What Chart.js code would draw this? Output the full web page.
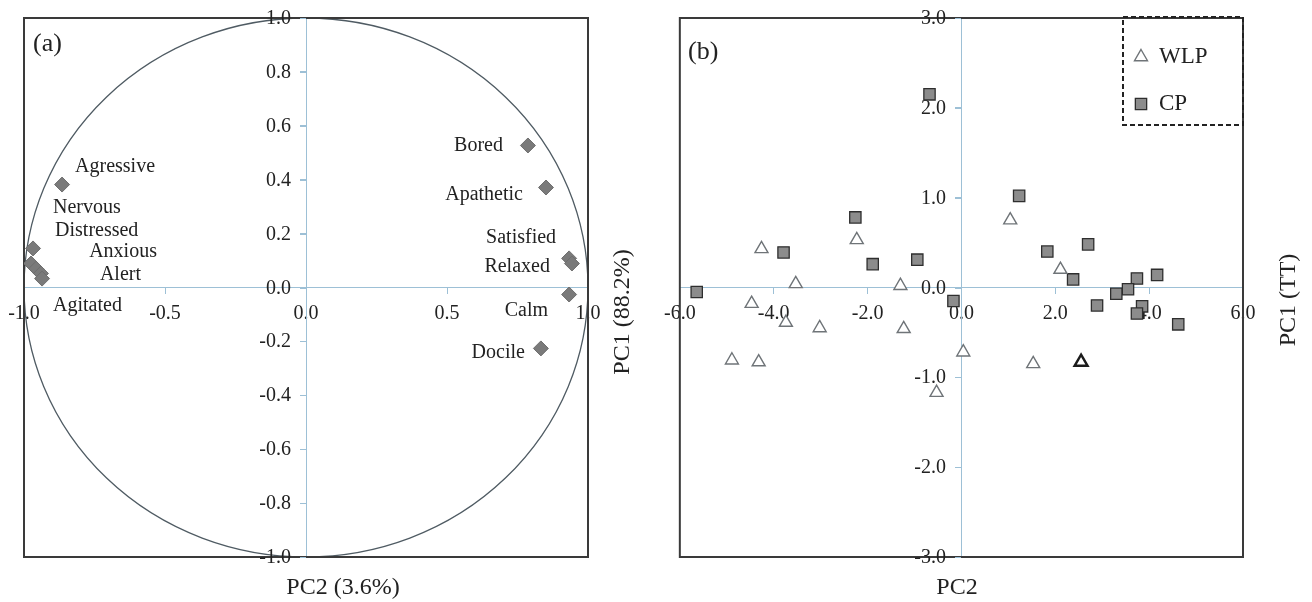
<!DOCTYPE html>
<html lang="en">

<head>
    <meta charset="UTF-8">
    <title>PCA loadings and scores</title>
    <style>
        body {
            margin: 0;
            padding: 0;
            background-color: #ffffff;
        }

        .panels {
            position: relative;
            width: 1312px;
            height: 602px;
        }

        canvas {
            position: absolute;
            top: 0;
        }

        #loadings { left: 0; }
        #scores { left: 656px; }
    </style>
</head>

<body>
    <div class="panels">
        <canvas id="loadings" width="656" height="602"></canvas>
        <canvas id="scores" width="656" height="602"></canvas>
    </div>

    <script src="https://cdn.jsdelivr.net/npm/chart.js"></script>
    <script>
        // ---- panel (a): trait loadings ----
        const traitNames = ["Agressive", "Nervous", "Distressed", "Anxious", "Alert", "Agitated",
            "Bored", "Apathetic", "Satisfied", "Relaxed", "Calm", "Docile"];
        const loadPC2 = [-0.865, -0.968, -0.975, -0.957, -0.940, -0.936,
            0.787, 0.851, 0.933, 0.943, 0.933, 0.833];
        const loadPC1 = [0.382, 0.145, 0.089, 0.070, 0.052, 0.033,
            0.527, 0.371, 0.108, 0.089, -0.026, -0.226];

        // ---- panel (b): scores ----
        const wlpPC2 = [-4.26, -2.23, -3.53, -1.30, -4.47, -3.74, -3.02, -1.23, -4.89, -4.32,
            0.04, -0.53, 1.53, 2.55, 1.04, 2.11];
        const wlpPC1 = [0.43, 0.53, 0.04, 0.02, -0.18, -0.39, -0.45, -0.46, -0.81, -0.83,
            -0.72, -1.17, -0.85, -0.83, 0.75, 0.20];
        const cpPC2 = [-0.68, -2.26, -3.79, -1.89, -0.94, -5.64, -0.17, 1.23, 1.83, 2.70,
            2.38, 3.74, 4.17, 3.55, 3.30, 2.89, 3.85, 3.74, 4.62];
        const cpPC1 = [2.15, 0.78, 0.39, 0.26, 0.31, -0.05, -0.15, 1.02, 0.40, 0.48,
            0.09, 0.10, 0.14, -0.02, -0.07, -0.20, -0.21, -0.29, -0.41];
        const seriesNames = ["WLP", "CP"];

        // label placement for panel (a): [dx, dy, align]
        const labelOffsets = [
            [13, -18, "left"], [20, -41, "left"], [24, -33, "left"], [53, -17, "left"],
            [59, 1, "left"], [11, 27, "left"],
            [-25, 0, "right"], [-23, 7, "right"], [-13, -21, "right"], [-22, 3, "right"],
            [-21, 16, "right"], [-16, 4, "right"]
        ];

        const serif = "'Liberation Serif', 'Times New Roman', serif";
        const axisBlue = "#9dc0d6";
        const ink = "#222222";

        Chart.defaults.font.family = serif;
        Chart.defaults.color = ink;

        function toPoints(xs, ys) {
            return xs.map((v, i) => ({ x: v, y: ys[i] }));
        }

        function centerAxes(xMin, xMax, xStep, yMin, yMax, yStep) {
            const common = {
                border: { color: axisBlue, width: 1 },
                grid: { drawOnChartArea: false, drawTicks: true, tickLength: 6, color: axisBlue },
            };
            return {
                x: {
                    type: "linear", min: xMin, max: xMax, position: { y: 0 },
                    ...common,
                    ticks: { stepSize: xStep, padding: 8, font: { size: 20 }, color: ink,
                        maxRotation: 0, callback: v => v.toFixed(1) },
                },
                y: {
                    type: "linear", min: yMin, max: yMax, position: { x: 0 },
                    ...common,
                    // labels for this axis are drawn by the plugin, left of the centre line
                    ticks: { stepSize: yStep, display: false },
                },
            };
        }

        function frame(chart) {
            const { ctx, chartArea: a } = chart;
            ctx.save();
            ctx.strokeStyle = "#3a3a3a";
            ctx.lineWidth = 2;
            ctx.strokeRect(a.left, a.top, a.width, a.height);
            ctx.restore();
        }

        // y tick marks and labels on the left side of the centred axis
        function yTicks(chart) {
            const { ctx, scales: { x, y } } = chart;
            const ax = Math.round(x.getPixelForValue(0));
            ctx.save();
            ctx.strokeStyle = axisBlue;
            ctx.lineWidth = 1;
            ctx.font = "20px " + serif;
            ctx.fillStyle = ink;
            ctx.textAlign = "right";
            ctx.textBaseline = "middle";
            y.ticks.forEach(t => {
                const py = Math.round(y.getPixelForValue(t.value));
                ctx.beginPath();
                ctx.moveTo(ax - 6, py + 0.5);
                ctx.lineTo(ax, py + 0.5);
                ctx.stroke();
                ctx.fillText(t.value.toFixed(1), ax - 15, py + 1);
            });
            ctx.restore();
        }

        function titles(ctx, tag, tagX, tagY, xTitle, xX, yTitle, yX, yY) {
            ctx.save();
            ctx.fillStyle = ink;
            ctx.textBaseline = "middle";
            ctx.font = "26px " + serif;
            ctx.textAlign = "left";
            ctx.fillText(tag, tagX, tagY);
            ctx.font = "24px " + serif;
            ctx.textAlign = "center";
            ctx.fillText(xTitle, xX, 588);
            ctx.translate(yX, yY);
            ctx.rotate(-Math.PI / 2);
            ctx.fillText(yTitle, 0, 0);
            ctx.restore();
        }

        // circle, frame and trait labels
        const loadingsDecor = {
            id: "loadingsDecor",
            beforeDatasetsDraw(chart) {
                const { ctx, scales: { x, y } } = chart;
                const cx = x.getPixelForValue(0), cy = y.getPixelForValue(0);
                const rx = x.getPixelForValue(1) - cx, ry = cy - y.getPixelForValue(1);
                ctx.save();
                ctx.beginPath();
                ctx.ellipse(cx, cy, rx, ry, 0, 0, Math.PI * 2);
                ctx.strokeStyle = "#4f5b63";
                ctx.lineWidth = 1.3;
                ctx.stroke();
                ctx.restore();
                frame(chart);
                yTicks(chart);
            },
            afterDatasetsDraw(chart) {
                const { ctx, scales: { x, y } } = chart;
                ctx.save();
                ctx.font = "20px " + serif;
                ctx.fillStyle = ink;
                ctx.textBaseline = "middle";
                traitNames.forEach((name, i) => {
                    const [dx, dy, align] = labelOffsets[i];
                    ctx.textAlign = align;
                    ctx.fillText(name, x.getPixelForValue(loadPC2[i]) + dx, y.getPixelForValue(loadPC1[i]) + dy);
                });
                ctx.restore();
                titles(ctx, "(a)", 33, 44, "PC2 (3.6%)", 343, "PC1 (88.2%)", 623, 312);
            },
        };

        new Chart(document.getElementById("loadings"), {
            type: "scatter",
            data: {
                datasets: [{
                    label: "Traits",
                    data: toPoints(loadPC2, loadPC1),
                    pointStyle: "rectRot",
                    pointRadius: 7.5,
                    backgroundColor: "#7a7a7a",
                    borderColor: "#6e6e6e",
                    borderWidth: 1,
                }],
            },
            options: {
                responsive: false,
                animation: false,
                layout: { padding: { left: 24, right: 68, top: 18, bottom: 45 } },
                plugins: { legend: { display: false }, tooltip: { enabled: false } },
                scales: centerAxes(-1, 1, 0.5, -1, 1, 0.2),
            },
            plugins: [loadingsDecor],
        });

        // frame, dashed legend and titles
        const scoresDecor = {
            id: "scoresDecor",
            beforeDatasetsDraw(chart) {
                frame(chart);
                yTicks(chart);
            },
            afterDatasetsDraw(chart) {
                const { ctx } = chart;
                ctx.save();
                ctx.setLineDash([5, 3]);
                ctx.strokeStyle = "#222";
                ctx.lineWidth = 2;
                ctx.strokeRect(467, 17, 120, 108);
                ctx.setLineDash([]);
                chart.data.datasets.forEach((ds, i) => {
                    const ly = i === 0 ? 57 : 104;
                    ctx.fillStyle = ds.backgroundColor;
                    ctx.strokeStyle = Array.isArray(ds.borderColor) ? ds.borderColor[0] : ds.borderColor;
                    ctx.lineWidth = Array.isArray(ds.borderWidth) ? ds.borderWidth[0] : ds.borderWidth;
                    Chart.helpers.drawPoint(ctx, {
                        pointStyle: ds.pointStyle, radius: ds.pointRadius,
                        borderWidth: ctx.lineWidth,
                    }, 485, ly);
                    ctx.font = "23px " + serif;
                    ctx.fillStyle = ink;
                    ctx.textAlign = "left";
                    ctx.textBaseline = "middle";
                    ctx.fillText(seriesNames[i], 503, ly);
                });
                ctx.restore();
                titles(ctx, "(b)", 32, 52, "PC2", 301, "PC1 (TT)", 633, 300);
            },
        };

        const wlpBorder = wlpPC2.map((v, i) => (i === 13 ? "#1c1c1c" : "#6f7478"));
        const wlpWidth = wlpPC2.map((v, i) => (i === 13 ? 2.4 : 1.4));

        new Chart(document.getElementById("scores"), {
            type: "scatter",
            data: {
                datasets: [{
                    label: seriesNames[0],
                    data: toPoints(wlpPC2, wlpPC1),
                    pointStyle: "triangle",
                    pointRadius: 7.5,
                    backgroundColor: "#ffffff",
                    borderColor: wlpBorder,
                    borderWidth: wlpWidth,
                }, {
                    label: seriesNames[1],
                    data: toPoints(cpPC2, cpPC1),
                    pointStyle: "rect",
                    pointRadius: 8,
                    backgroundColor: "#8c8c8c",
                    borderColor: "#2e2e2e",
                    borderWidth: 1.3,
                }],
            },
            options: {
                responsive: false,
                animation: false,
                layout: { padding: { left: 22, right: 69, top: 18, bottom: 45 } },
                plugins: { legend: { display: false }, tooltip: { enabled: false } },
                scales: centerAxes(-6, 6, 2, -3, 3, 1),
            },
            plugins: [scoresDecor],
        });
    </script>
</body>

</html>
